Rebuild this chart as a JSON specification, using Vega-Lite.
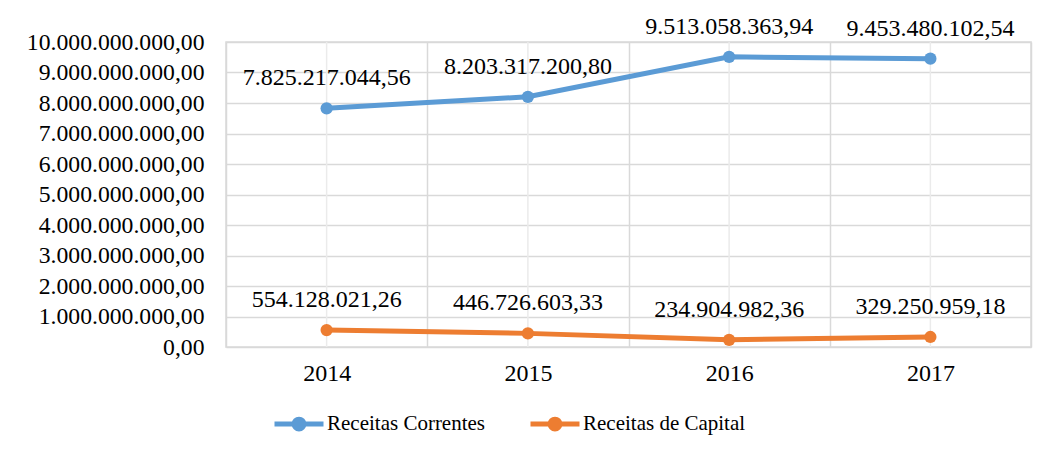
{
  "$schema": "https://vega.github.io/schema/vega-lite/v6.json",
  "width": 805,
  "height": 305,
  "autosize": "none",
  "padding": {"left": 226, "top": 42, "right": 15, "bottom": 110},
  "background": "white",
  "config": {
    "locale": {"number": {"decimal": ",", "thousands": ".", "grouping": [3], "currency": ["R$", ""]}},
    "view": {"stroke": "#d9d9d9", "strokeWidth": 1.5},
    "font": "Liberation Serif",
    "text": {"font": "Liberation Serif"}
  },
  "data": {
    "values": [
      {"ano": "2014", "serie": "Receitas Correntes", "valor": 7825217044.56},
      {"ano": "2015", "serie": "Receitas Correntes", "valor": 8203317200.80},
      {"ano": "2016", "serie": "Receitas Correntes", "valor": 9513058363.94},
      {"ano": "2017", "serie": "Receitas Correntes", "valor": 9453480102.54},
      {"ano": "2014", "serie": "Receitas de Capital", "valor": 554128021.26},
      {"ano": "2015", "serie": "Receitas de Capital", "valor": 446726603.33},
      {"ano": "2016", "serie": "Receitas de Capital", "valor": 234904982.36},
      {"ano": "2017", "serie": "Receitas de Capital", "valor": 329250959.18}
    ]
  },
  "encoding": {
    "x": {
      "field": "ano", "type": "ordinal",
      "scale": {"paddingInner": 0, "paddingOuter": 0},
      "axis": {
        "title": null, "labelAngle": 0, "ticks": false, "domain": false,
        "grid": true, "tickBand": "extent", "gridColor": "#d9d9d9", "gridWidth": 1.5,
        "labelFont": "Liberation Serif", "labelFontSize": 24, "labelColor": "#000000", "labelPadding": 14
      }
    },
    "y": {
      "field": "valor", "type": "quantitative",
      "scale": {"domain": [0, 10000000000], "nice": false},
      "axis": {
        "title": null, "values": [0, 1000000000, 2000000000, 3000000000, 4000000000, 5000000000, 6000000000, 7000000000, 8000000000, 9000000000, 10000000000],
        "format": ",.2f", "ticks": false, "domain": false, "gridColor": "#d9d9d9", "gridWidth": 1.5,
        "labelOverlap": false, "labelBound": false, "labelFlush": false,
        "labelFont": "Liberation Serif", "labelFontSize": 23.7, "labelColor": "#000000", "labelPadding": 22
      }
    }
  },
  "layer": [
    {
      "transform": [{"filter": "datum.serie == 'Receitas Correntes'"}],
      "mark": {"type": "rule", "color": "#ebebeb", "strokeWidth": 1.5},
      "encoding": {"y": null}
    },
    {
      "mark": {"type": "line", "strokeWidth": 5, "point": {"filled": true, "size": 150}},
      "encoding": {
        "color": {
          "field": "serie", "type": "nominal",
          "scale": {"domain": ["Receitas Correntes", "Receitas de Capital"], "range": ["#5B9BD5", "#ED7D31"]},
          "legend": {
            "title": null, "orient": "none", "direction": "horizontal",
            "legendX": 46, "legendY": 355,
            "symbolType": "M-1,0H1M-0.2,0A0.2,0.2 0 1,0 0.2,0A0.2,0.2 0 1,0 -0.2,0",
            "symbolSize": 2401, "symbolStrokeWidth": 5,
            "labelFont": "Liberation Serif", "labelFontSize": 21, "labelColor": "#000000",
            "labelOffset": 1, "columnPadding": 34, "labelLimit": 400
          }
        }
      }
    },
    {
      "mark": {"type": "text", "dy": -30, "fontSize": 24, "font": "Liberation Serif", "color": "#000000", "baseline": "middle"},
      "encoding": {
        "text": {"field": "valor", "type": "quantitative", "format": ",.2f"},
        "detail": {"field": "serie"}
      }
    }
  ]
}
